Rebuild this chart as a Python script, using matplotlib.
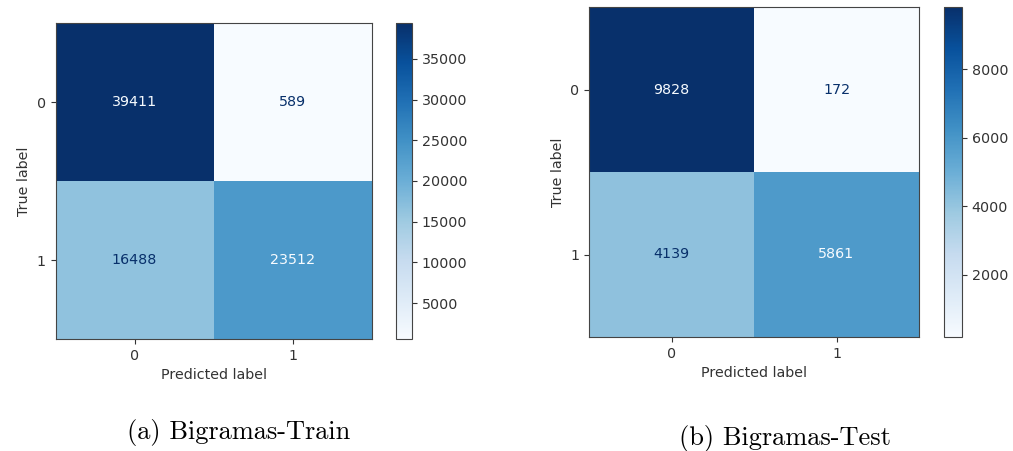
import numpy as np
import matplotlib
matplotlib.use("Agg")
import matplotlib.pyplot as plt

plt.rcParams["font.family"] = "DejaVu Sans"

class_labels = ["0", "1"]
train_cm = np.array([[39411, 589],
                     [16488, 23512]])
test_cm = np.array([[9828, 172],
                    [4139, 5861]])
train_cbar_ticks = [5000, 10000, 15000, 20000, 25000, 30000, 35000]
test_cbar_ticks = [2000, 4000, 6000, 8000]
captions = ["(a) Bigramas-Train", "(b) Bigramas-Test"]

W, H = 1013, 451
FS = 10.3
fig = plt.figure(figsize=(W / 100, H / 100), dpi=100)
cmap = plt.get_cmap("Blues")


def px(x0, y_top, w, h):
    # pixel box -> figure fraction
    return [x0 / W, (H - y_top - h) / H, w / W, h / H]


def draw_cm(ax, cax, cm, cticks):
    im = ax.imshow(cm, cmap=cmap, interpolation="nearest")
    thresh = (cm.max() + cm.min()) / 2.0
    for i in range(cm.shape[0]):
        for j in range(cm.shape[1]):
            col = cmap(0.0) if cm[i, j] > thresh else cmap(1.0)
            ax.text(j, i, str(cm[i, j]), ha="center", va="center",
                    color=col, fontsize=FS)
    ax.set_xticks(range(len(class_labels)))
    ax.set_yticks(range(len(class_labels)))
    ax.set_xticklabels(class_labels)
    ax.set_yticklabels(class_labels)
    ax.set_xlabel("Predicted label", fontsize=FS, color="#333333")
    ax.set_ylabel("True label", fontsize=FS, color="#333333")
    ax.tick_params(labelsize=FS, colors="#333333")
    for s in ax.spines.values():
        s.set_color("#444444")
    cb = fig.colorbar(im, cax=cax, ticks=cticks)
    cb.ax.tick_params(labelsize=FS, colors="#333333")
    cb.outline.set_edgecolor("#444444")


ax1 = fig.add_axes(px(55, 23, 317, 316))
cax1 = fig.add_axes(px(396, 23, 16, 316))
draw_cm(ax1, cax1, train_cm, train_cbar_ticks)

ax2 = fig.add_axes(px(589, 7, 330, 330))
cax2 = fig.add_axes(px(944, 7, 18, 330))
draw_cm(ax2, cax2, test_cm, test_cbar_ticks)

fig.text(239 / W, 1 - 433 / H, captions[0], ha="center", va="center",
         fontsize=19, family="cmr10")
fig.text(785 / W, 1 - 438 / H, captions[1], ha="center", va="center",
         fontsize=19, family="cmr10")

fig.savefig("out.png", dpi=100)
